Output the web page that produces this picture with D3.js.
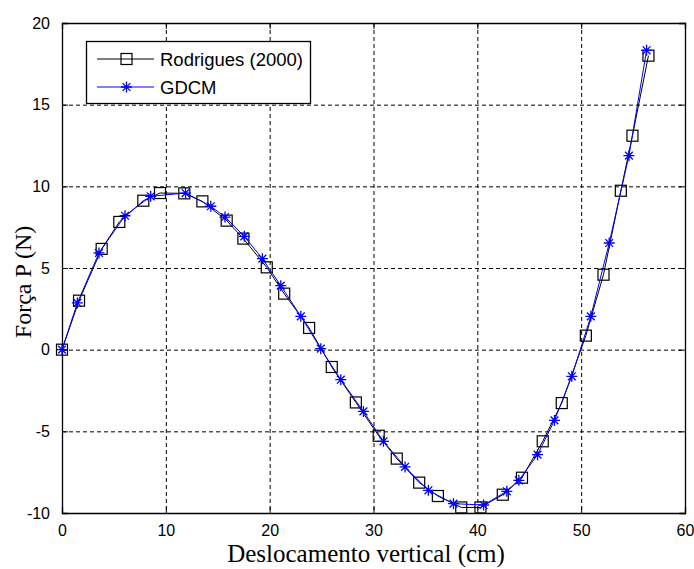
<!DOCTYPE html>
<html><head><meta charset="utf-8">
<script src="https://cdn.jsdelivr.net/npm/d3@7"></script>
<style>body{margin:0;background:#fff}svg{display:block}</style>
</head><body>
<script>
const rodX = [0, 1.64, 3.82, 5.52, 7.83, 9.44, 11.78, 13.52, 15.86, 17.47, 19.72, 21.4, 23.8, 25.98, 28.3, 30.5, 32.24, 34.4, 36.2, 38.45, 40.3, 42.45, 44.3, 46.3, 48.13, 50.45, 52.15, 53.82, 54.94, 56.48];
const rodY = [0, 3.0, 6.17, 7.82, 9.12, 9.59, 9.57, 9.08, 7.90, 6.80, 5.04, 3.43, 1.33, -1.06, -3.23, -5.27, -6.67, -8.14, -8.96, -9.66, -9.66, -8.88, -7.84, -5.61, -3.27, 0.86, 4.59, 9.73, 13.1, 18.0];
const gdX = [0, 1.48, 3.56, 6.07, 8.54, 11.9, 14.33, 15.7, 17.56, 19.3, 21.07, 23.0, 24.92, 26.85, 29.03, 30.96, 33.04, 35.29, 37.7, 40.6, 42.84, 44.0, 45.8, 47.43, 49.1, 50.93, 52.7, 54.6, 56.3];
const gdY = [0, 2.86, 5.92, 8.2, 9.39, 9.59, 8.78, 8.12, 6.94, 5.57, 3.92, 2.04, 0.06, -1.84, -3.78, -5.61, -7.18, -8.61, -9.43, -9.51, -8.67, -8.0, -6.43, -4.33, -1.63, 2.04, 6.53, 11.88, 18.33];
const xTicks = [0, 10, 20, 30, 40, 50, 60];
const yTicks = [-10, -5, 0, 5, 10, 15, 20];
const seriesNames = ["Rodrigues (2000)", "GDCM"];
const xLabel = "Deslocamento vertical (cm)";
const yLabel = "Força P (N)";

const W = 694, H = 569;
const L = 62, R = 685, T = 23, B = 513;
const svg = d3.select("body").append("svg").attr("width", W).attr("height", H);
const x = d3.scaleLinear().domain([0, 60]).range([L, R]);
const y = d3.scaleLinear().domain([-10, 20]).range([B, T]);

// grid
const g = svg.append("g");
g.selectAll("line.gx").data(xTicks.slice(1, -1)).join("line")
  .attr("x1", d => x(d)+0.5).attr("x2", d => x(d)+0.5).attr("y1", T).attr("y2", B)
  .attr("stroke", "#000").attr("stroke-width", 1).attr("stroke-dasharray", "4,3");
g.selectAll("line.gy").data(yTicks.slice(1, -1)).join("line")
  .attr("y1", d => y(d)+0.5).attr("y2", d => y(d)+0.5).attr("x1", L).attr("x2", R)
  .attr("stroke", "#000").attr("stroke-width", 1).attr("stroke-dasharray", "4,3");

// axes (box with inward ticks)
const fmt = d => String(d);
const axB = d3.axisBottom(x).tickValues(xTicks).tickSize(-6).tickPadding(12).tickFormat(fmt);
const axT = d3.axisTop(x).tickValues(xTicks).tickSize(-6).tickFormat("");
const axL = d3.axisLeft(y).tickValues(yTicks).tickSize(-6).tickPadding(12).tickFormat(fmt);
const axR = d3.axisRight(y).tickValues(yTicks).tickSize(-6).tickFormat("");
[[axB, `translate(0,${B})`], [axT, `translate(0,${T})`], [axL, `translate(${L},0)`], [axR, `translate(${R},0)`]].forEach(([ax, tr]) => {
  const a = svg.append("g").attr("transform", tr).call(ax);
  a.select(".domain").attr("stroke", "#000").attr("stroke-width", 1.3);
  a.selectAll(".tick line").attr("stroke", "#000");
  a.selectAll("text").attr("font-family", "'Liberation Sans', Arial, sans-serif").attr("font-size", 16).attr("fill", "#000");
});

// data
const rod = rodX.map((v, i) => [v, rodY[i]]);
const gd = gdX.map((v, i) => [v, gdY[i]]);
const line = d3.line().x(d => x(d[0])).y(d => y(d[1]));
svg.append("path").datum(rod).attr("d", line).attr("fill", "none").attr("stroke", "#000").attr("stroke-width", 1);
svg.selectAll("rect.m").data(rod).join("rect")
  .attr("x", d => x(d[0]) - 5.5).attr("y", d => y(d[1]) - 5.5).attr("width", 11).attr("height", 11)
  .attr("fill", "none").attr("stroke", "#000").attr("stroke-width", 1.2);
svg.append("path").datum(gd).attr("d", line).attr("fill", "none").attr("stroke", "#0000ff").attr("stroke-width", 1);
const starPath = (cx, cy, r) => {
  const d = r * 0.7071;
  return `M${cx-r},${cy}L${cx+r},${cy}M${cx},${cy-r}L${cx},${cy+r}M${cx-d},${cy-d}L${cx+d},${cy+d}M${cx-d},${cy+d}L${cx+d},${cy-d}`;
};
svg.selectAll("path.s").data(gd).join("path")
  .attr("d", d => starPath(x(d[0]), y(d[1]), 5.5))
  .attr("fill", "none").attr("stroke", "#0000ff").attr("stroke-width", 1.3);

// legend
const lg = svg.append("g");
lg.append("rect").attr("x", 86.5).attr("y", 41.5).attr("width", 224).attr("height", 62)
  .attr("fill", "#fff").attr("stroke", "#000").attr("stroke-width", 1.3);
const rows = [{y: 59, c: "#000"}, {y: 87, c: "#0000ff"}];
rows.forEach((r, i) => {
  lg.append("line").attr("x1", 97).attr("x2", 154).attr("y1", r.y).attr("y2", r.y).attr("stroke", r.c).attr("stroke-width", 1);
  if (i === 0) lg.append("rect").attr("x", 121).attr("y", r.y - 5.5).attr("width", 11).attr("height", 11).attr("fill", "none").attr("stroke", "#000").attr("stroke-width", 1.2);
  else lg.append("path").attr("d", starPath(126.5, r.y, 5.5)).attr("fill", "none").attr("stroke", r.c).attr("stroke-width", 1.3);
  lg.append("text").attr("x", 160).attr("y", r.y).attr("dy", "0.36em").text(seriesNames[i])
    .attr("font-family", "'Liberation Sans', Arial, sans-serif").attr("font-size", 18.5).attr("fill", "#000");
});

// axis labels
svg.append("text").attr("x", 366).attr("y", 562).attr("text-anchor", "middle").text(xLabel)
  .attr("font-family", "'Liberation Serif', 'Times New Roman', serif").attr("font-size", 25).attr("fill", "#000");
svg.append("text").attr("transform", "translate(31,282) rotate(-90)").attr("text-anchor", "middle").text(yLabel)
  .attr("font-family", "'Liberation Serif', 'Times New Roman', serif").attr("font-size", 24).attr("fill", "#000");
</script>
</body></html>
